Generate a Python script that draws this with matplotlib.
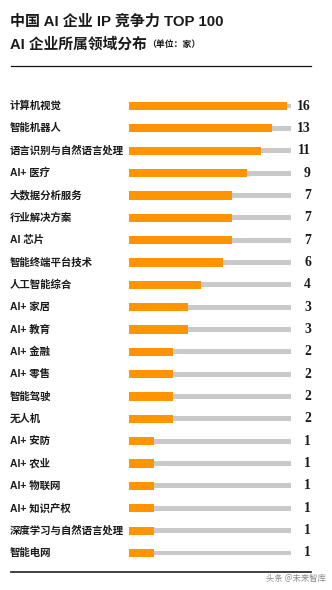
import numpy as np
import matplotlib
matplotlib.use("Agg")
import matplotlib.pyplot as plt
import matplotlib.transforms as mtransforms

plt.rcParams['font.family'] = ['Noto Sans CJK SC', 'DejaVu Sans']
SANS = ['Liberation Sans', 'Noto Sans CJK SC', 'DejaVu Sans']

categories = ["计算机视觉", "智能机器人", "语言识别与自然语言处理", "AI+ 医疗", "大数据分析服务",
              "行业解决方案", "AI 芯片", "智能终端平台技术", "人工智能综合", "AI+ 家居",
              "AI+ 教育", "AI+ 金融", "AI+ 零售", "智能驾驶", "无人机", "AI+ 安防",
              "AI+ 农业", "AI+ 物联网", "AI+ 知识产权", "深度学习与自然语言处理", "智能电网"]
values = [16, 13, 11, 9, 7, 7, 7, 6, 4, 3, 3, 2, 2, 2, 2, 1, 1, 1, 1, 1, 1]
track_max = 17.0
title1 = "中国 AI 企业 IP 竞争力 TOP 100"
title2 = "AI 企业所属领域分布"
unit = "（单位：家）"
source = "头条 @未来智库"

W, H = 332, 590
fig = plt.figure(figsize=(W / 100, H / 100), dpi=100)
fig.patch.set_facecolor("white")

def px(x, y):
    return x / W, 1 - y / H

ax_left, ax_right = 129, 291
row_top, row_bot = 106, 553
n = len(categories)
sp = (row_bot - row_top) / (n - 1)
ax_top = row_top - sp / 2
ax_bottom = row_bot + sp / 2
ax = fig.add_axes([ax_left / W, 1 - ax_bottom / H, (ax_right - ax_left) / W, (ax_bottom - ax_top) / H])

b = 3.0
def fwd(x):
    return np.log1p(np.maximum(x, -b * 0.999) / b)
def inv(y):
    return b * np.expm1(y)
ax.set_xscale('function', functions=(fwd, inv))

ypos = np.arange(n)
ax.barh(ypos, [track_max] * n, height=0.22, color="#c9c9c9", left=0)
ax.barh(ypos, values, height=0.37, color="#ff9300", left=0)
ax.set_xlim(0, track_max)
ax.set_ylim(n - 0.5, -0.5)
ax.axis('off')

trans = mtransforms.blended_transform_factory(fig.transFigure, ax.transData)
for i, (c, v) in enumerate(zip(categories, values)):
    ax.text(10 / W, i, c, transform=trans, ha='left', va='center',
            fontsize=7.5, fontweight='bold', color="#1a1a1a", family=SANS)
    ax.text(311 / W, i, str(v), transform=trans, ha='right', va='center',
            fontsize=9.8, fontweight='bold', color="#1a1a1a",
            family=['Liberation Serif', 'DejaVu Serif'])

fig.text(*px(10, 22), title1, ha='left', va='center', fontsize=10.8, fontweight='bold',
         color="#1a1a1a", family=SANS)
t2 = fig.text(*px(10, 44), title2, ha='left', va='center', fontsize=10.6, fontweight='bold',
              color="#1a1a1a", family=SANS)
fig.canvas.draw()
bb = t2.get_window_extent()
fig.text(bb.x1 / W + 0.002, 1 - 45 / H, unit, ha='left', va='center', fontsize=6.4,
         fontweight='bold', color="#1a1a1a")

fig.add_artist(plt.Line2D([11 / W, 311 / W], [1 - 66 / H, 1 - 66 / H], color="#111111", lw=0.9))
fig.add_artist(plt.Line2D([11 / W, 311 / W], [1 - 572 / H, 1 - 572 / H], color="#333333", lw=1.3))

fig.text(*px(326, 578), source, ha='right', va='center', fontsize=6, color="#8a8a8a")

fig.savefig("out.png", dpi=100, facecolor="white")
